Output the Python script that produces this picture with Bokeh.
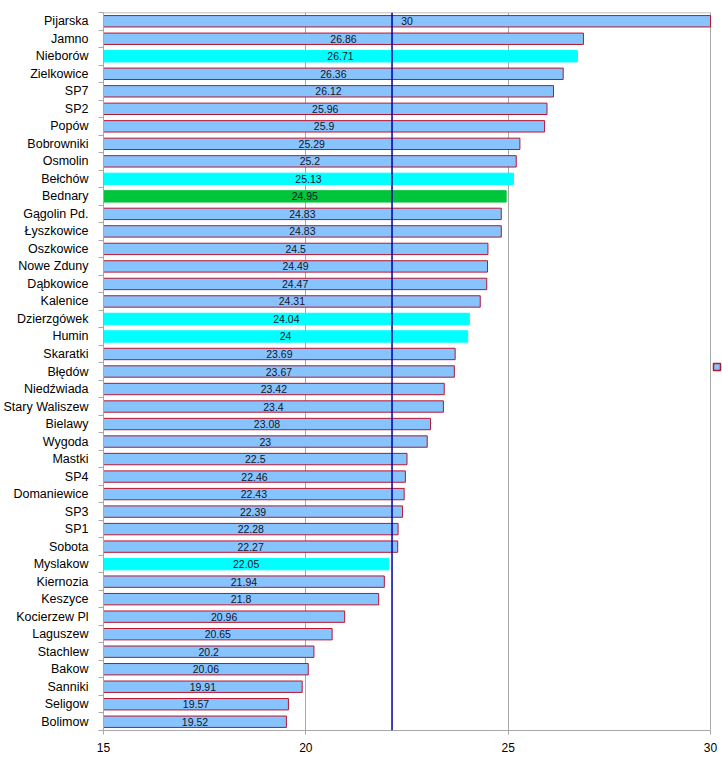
from bokeh.plotting import figure
from bokeh.models import (ColumnDataSource, FixedTicker, Span, Range1d)
from bokeh.core.properties import value
from bokeh.embed import file_html
from bokeh.resources import INLINE

names = ["Pijarska", "Jamno", "Nieborów", "Zielkowice", "SP7", "SP2", "Popów", "Bobrowniki",
         "Osmolin", "Bełchów", "Bednary", "Gągolin Pd.", "Łyszkowice", "Oszkowice", "Nowe Zduny",
         "Dąbkowice", "Kalenice", "Dzierzgówek", "Humin", "Skaratki", "Błędów", "Niedźwiada",
         "Stary Waliszew", "Bielawy", "Wygoda", "Mastki", "SP4", "Domaniewice", "SP3", "SP1",
         "Sobota", "Myslakow", "Kiernozia", "Keszyce", "Kocierzew Pl", "Laguszew", "Stachlew",
         "Bakow", "Sanniki", "Seligow", "Bolimow"]
values = [30, 26.86, 26.71, 26.36, 26.12, 25.96, 25.9, 25.29, 25.2, 25.13, 24.95, 24.83, 24.83,
          24.5, 24.49, 24.47, 24.31, 24.04, 24, 23.69, 23.67, 23.42, 23.4, 23.08, 23, 22.5,
          22.46, 22.43, 22.39, 22.28, 22.27, 22.05, 21.94, 21.8, 20.96, 20.65, 20.2, 20.06,
          19.91, 19.57, 19.52]
highlight_cyan = ["Nieborów", "Bełchów", "Dzierzgówek", "Humin", "Myslakow"]
highlight_green = ["Bednary"]
average = 22.13
x_ticks = [15, 20, 25, 30]

BLUE = "#87c3fd"
RED = "#b81530"
CYAN = "#00ffff"
GREEN = "#00c43c"
GRID = "#a8a8a8"

n = len(names)
ypos = [n - 1 - i for i in range(n)]
fills, lines, labels_v = [], [], []
for nm, v in zip(names, values):
    if nm in highlight_green:
        fills.append(GREEN); lines.append(GREEN)
    elif nm in highlight_cyan:
        fills.append(CYAN); lines.append(CYAN)
    else:
        fills.append(BLUE); lines.append(RED)
    labels_v.append(("%g" % v))

src = ColumnDataSource(dict(y=ypos, v=values, left=[x_ticks[0]] * n, fill=fills, line=lines,
                            mid=[(x_ticks[0] + v) / 2 for v in values], lab=labels_v))

# plot area 607 px for 15..30, plus a 13 px strip on the right for the series key
PLOT_W, KEY_W, FH = 607, 13, 718
unit = (x_ticks[-1] - x_ticks[0]) / PLOT_W          # data units per pixel
x_end = x_ticks[-1] + KEY_W * unit
p = figure(output_backend="svg", toolbar_location=None,
           frame_width=PLOT_W + KEY_W, frame_height=FH,
           x_range=Range1d(x_ticks[0], x_end), y_range=Range1d(-0.5, n - 0.5),
           min_border_left=102, min_border_top=12, min_border_bottom=25, min_border_right=0)
p.background_fill_color = "white"
p.border_fill_color = "white"
p.outline_line_color = None

# top border of the plot area (15..30)
p.segment(x0=[x_ticks[0]], x1=[x_ticks[-1]], y0=[n - 0.5], y1=[n - 0.5],
          line_color=GRID, line_width=1.5)

p.hbar(y="y", left="left", right="v", height=0.65, fill_color="fill", line_color="line",
       line_width=1, source=src)
p.text(x="mid", y="y", text="lab", source=src, text_align="center", text_baseline="middle",
       text_font=value("Liberation Sans"), text_font_size="10.5px", text_color="#141428")

p.add_layout(Span(location=average, dimension="height", line_color="#0000a0", line_width=1.5))

# series key (legend marker without text)
p.scatter(x=[x_ticks[-1] + 6.5 * unit], y=[(n - 0.5) - 354.5 * n / FH], marker="square",
          size=7, fill_color=BLUE, line_color=RED, line_width=1.5)

# x axis
p.xaxis.ticker = FixedTicker(ticks=x_ticks)
p.xaxis.bounds = (x_ticks[0], x_ticks[-1])
p.xaxis.axis_line_color = GRID
p.xaxis.major_tick_line_color = GRID
p.xaxis.major_tick_out = 4
p.xaxis.major_tick_in = 0
p.xaxis.minor_tick_line_color = None
p.xaxis.major_label_standoff = 8
p.xaxis.major_label_text_font = "Liberation Sans"
p.xaxis.major_label_text_font_size = "12px"
p.xaxis.major_label_text_color = "#000000"
p.xgrid.ticker = FixedTicker(ticks=x_ticks)
p.xgrid.grid_line_color = GRID
p.ygrid.grid_line_color = None

# y axis: labels at centres, tick marks at boundaries
p.yaxis.ticker = FixedTicker(ticks=ypos, minor_ticks=[k - 0.5 for k in range(n + 1)])
p.yaxis.major_label_overrides = {y: nm for y, nm in zip(ypos, names)}
p.yaxis.axis_line_color = GRID
p.yaxis.major_tick_line_color = None
p.yaxis.major_tick_out = 0
p.yaxis.major_tick_in = 0
p.yaxis.minor_tick_line_color = GRID
p.yaxis.minor_tick_out = 5
p.yaxis.minor_tick_in = 0
p.yaxis.major_label_standoff = 10
p.yaxis.major_label_text_font = "Liberation Sans"
p.yaxis.major_label_text_font_size = "12.5px"
p.yaxis.major_label_text_color = "#000000"

open("out.html", "w").write(file_html(p, INLINE))
